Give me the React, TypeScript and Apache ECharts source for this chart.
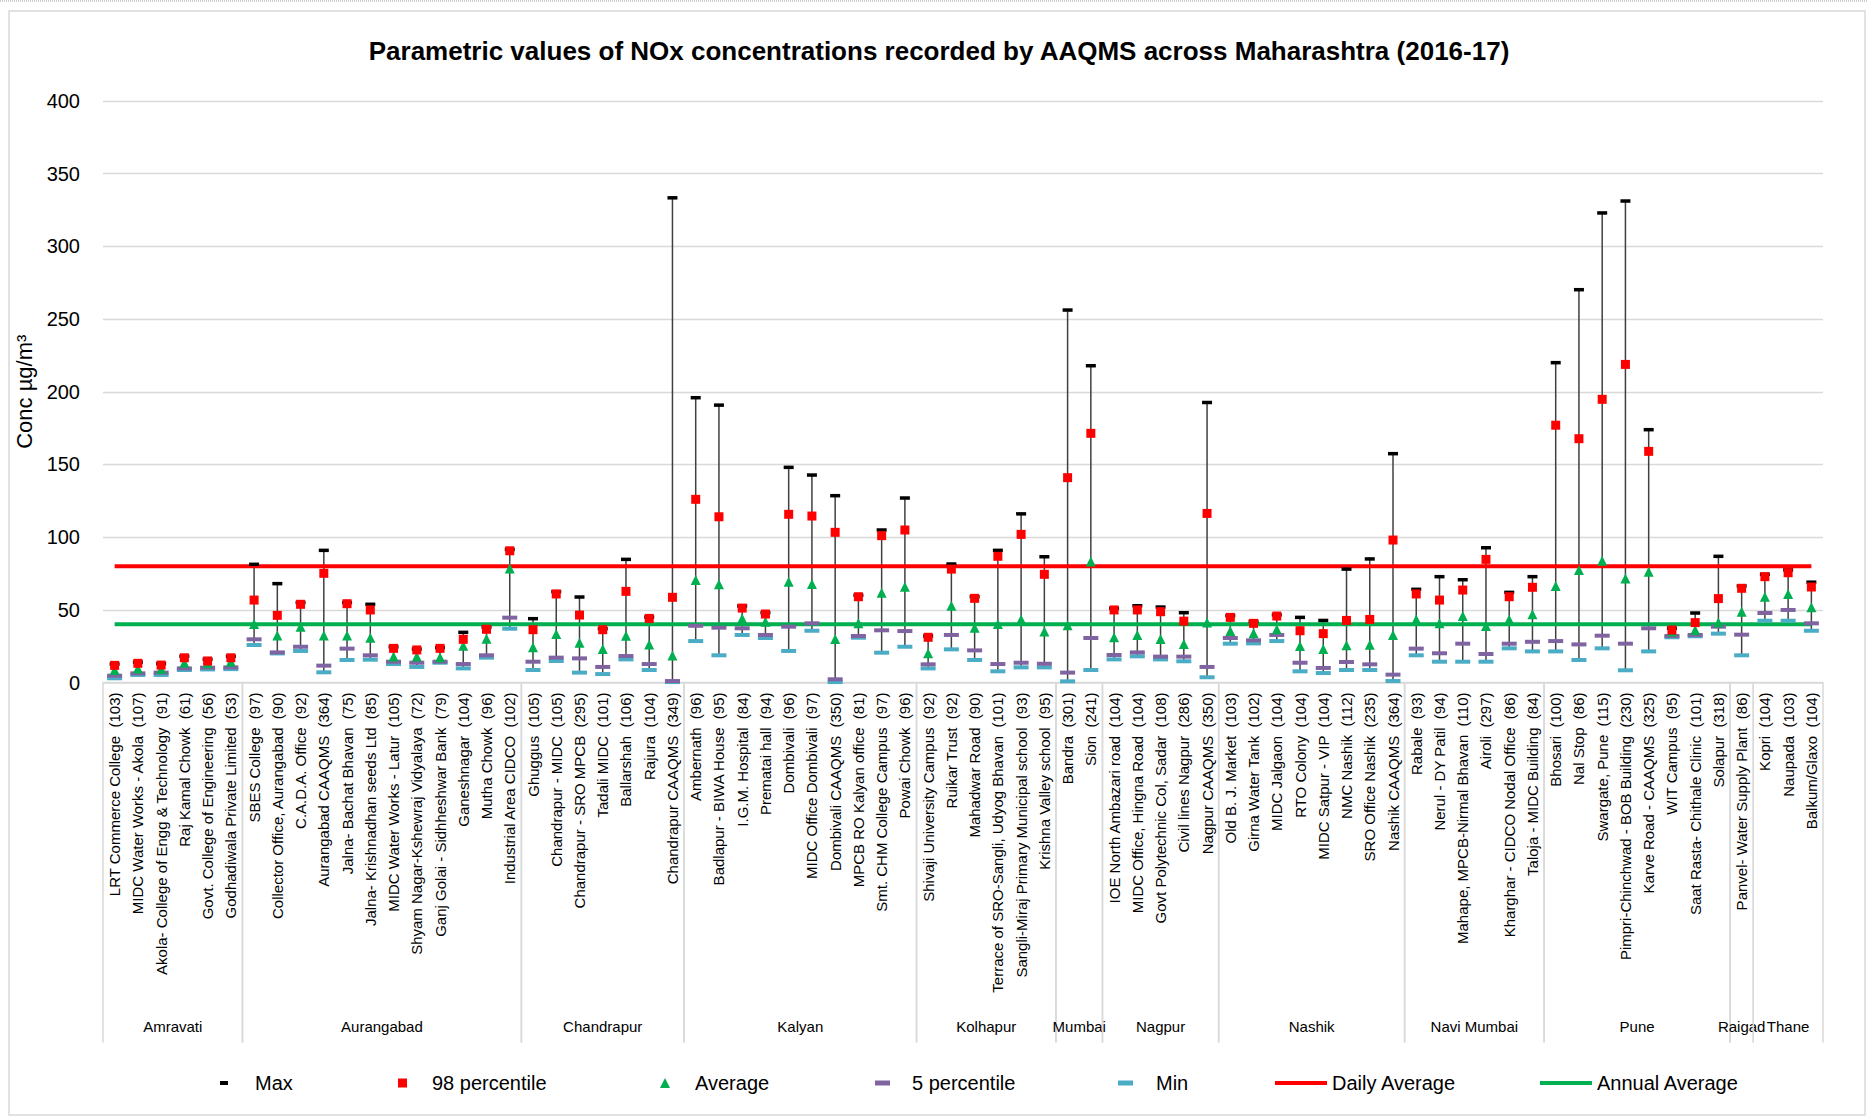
import React, { useEffect, useRef } from 'react';
import * as echarts from 'echarts';

const stations = [
  'LRT Commerce College', 'MIDC Water Works - Akola', 'Akola- College of Engg & Technology', 'Raj Kamal Chowk', 'Govt. College of Engineering', 'Godhadiwala Private Limited',
  'SBES College', 'Collector Office, Aurangabad', 'C.A.D.A. Office', 'Aurangabad CAAQMS', 'Jalna- Bachat Bhavan', 'Jalna- Krishnadhan seeds Ltd', 'MIDC Water Works - Latur', 'Shyam Nagar-Kshewraj Vidyalaya', 'Ganj Golai - Sidhheshwar Bank', 'Ganeshnagar', 'Mutha Chowk', 'Industrial Area CIDCO',
  'Ghuggus', 'Chandrapur - MIDC', 'Chandrapur - SRO MPCB', 'Tadali MIDC', 'Ballarshah', 'Rajura', 'Chandrapur CAAQMS',
  'Ambernath', 'Badlapur - BIWA House', 'I.G.M. Hospital', 'Prematai hall', 'Dombivali', 'MIDC Office Dombivali', 'Dombivali CAAQMS', 'MPCB RO Kalyan office', 'Smt. CHM College Campus', 'Powai Chowk',
  'Shivaji University Campus', 'Ruikar Trust', 'Mahadwar Road', 'Terrace of SRO-Sangli, Udyog Bhavan', 'Sangli-Miraj Primary Municipal school', 'Krishna Valley school',
  'Bandra', 'Sion',
  'IOE North Ambazari road', 'MIDC Office, Hingna Road', 'Govt Polytechnic Col, Sadar', 'Civil lines Nagpur', 'Nagpur CAAQMS',
  'Old B. J. Market', 'Girna Water Tank', 'MIDC Jalgaon', 'RTO Colony', 'MIDC Satpur - VIP', 'NMC Nashik', 'SRO Office Nashik', 'Nashik CAAQMS',
  'Rabale', 'Nerul - DY Patil', 'Mahape, MPCB-Nirmal Bhavan', 'Airoli', 'Kharghar - CIDCO Nodal Office', 'Taloja - MIDC Building',
  'Bhosari', 'Nal Stop', 'Swargate, Pune', 'Pimpri-Chinchwad - BOB Building', 'Karve Road - CAAQMS', 'WIT Campus', 'Saat Rasta- Chithale Clinic', 'Solapur',
  'Panvel- Water Supply Plant',
  'Kopri', 'Naupada', 'Balkum/Glaxo',
];

const obsCounts = [
  103, 107, 91, 61, 56, 53,
  97, 90, 92, 364, 75, 85, 105, 72, 79, 104, 96, 102,
  105, 105, 295, 101, 106, 104, 349,
  96, 95, 84, 94, 96, 97, 350, 81, 97, 96,
  92, 92, 90, 101, 93, 95,
  301, 241,
  104, 104, 108, 286, 350,
  103, 102, 104, 104, 104, 112, 235, 364,
  93, 94, 110, 297, 86, 84,
  100, 86, 115, 230, 325, 95, 101, 318,
  86,
  104, 103, 104,
];

const maxVals = [
  12.7, 14, 13, 18, 16, 18,
  81.3, 68, 55, 90.9, 55, 53.8, 24.5, 23, 24, 34.5, 38, 91.5,
  43.9, 62.5, 58.8, 37, 84.7, 45, 333.4,
  195.9, 190.8, 52.6, 48, 148, 142.7, 128.5, 60, 104.9, 126.9,
  32, 81.5, 59, 90.9, 116, 86.5,
  256.2, 217.9,
  51, 52.8, 51.9, 48, 192.6,
  46, 42, 46.5, 44.8, 42.7, 78, 85, 157.4,
  64.1, 72.8, 70.7, 92.7, 62, 72.8,
  220, 270.2, 323, 331.2, 173.9, 37.3, 47.8, 86.8,
  66.4,
  74.4, 77.4, 69,
];

const p98Vals = [
  11.8, 13.2, 12, 17, 14.8, 17,
  56.7, 46.2, 53.8, 75.1, 54.2, 49.9, 23.5, 22.4, 23.5, 29.7, 36.6, 90.6,
  36.3, 60.9, 46.4, 36.3, 62.7, 44.1, 58.6,
  126, 114, 51.2, 47.1, 115.7, 114.5, 103.3, 59, 101, 104.9,
  31.1, 78, 57.9, 86.8, 101.9, 74.4,
  140.9, 171.4,
  49.9, 49.9, 48.7, 42.2, 116.3,
  44.8, 40.7, 45.7, 35.6, 33.6, 42.7, 43.4, 98,
  60.9, 56.7, 63.6, 84.7, 59, 65.5,
  177, 167.7, 194.8, 218.8, 159, 36.1, 41.2, 57.7,
  64.8,
  72.8, 75.5, 65.7,
];

const avgVals = [
  8.6, 9.7, 9.3, 13.6, 13.2, 14.3,
  40.2, 32.4, 38.4, 32.4, 32.4, 30.8, 17.8, 17.8, 17.3, 25.3, 30.1, 78.5,
  24.2, 33.4, 27.4, 23, 32.2, 26.2, 18.5,
  70.5, 67.5, 44.1, 41.8, 69.3, 67.7, 29.9, 40.7, 61.8, 65.9,
  20.1, 52.8, 37.7, 40.2, 43.4, 35,
  39.3, 83.3,
  31.1, 32.7, 29.9, 26.5, 41.2,
  35.4, 33.8, 36.6, 25.1, 23, 25.6, 26, 32.7,
  43.4, 40.7, 45.7, 38.9, 43.4, 46.9,
  66.3, 77.4, 83.8, 71.6, 76.2, 35, 36.1, 41.2,
  48.7,
  59, 60.9, 51.7,
];

const p5Vals = [
  4.7, 6.3, 6.8, 9.7, 10.2, 10.4,
  29.7, 20.7, 24.6, 11.6, 23.3, 18.7, 14.3, 13.6, 14.3, 12.7, 18.7, 44.6,
  14.3, 17.1, 16.6, 10.7, 18.2, 12.7, 1,
  39, 37.7, 37.3, 32.7, 38.4, 40.7, 2.2, 32, 35.9, 35.4,
  12.5, 32.7, 22.1, 12.7, 13.6, 12.9,
  6.8, 30.6,
  18.9, 20.7, 17.8, 17.8, 10.7,
  30.6, 29, 32.7, 13.6, 10, 14.1, 12.5, 5.4,
  23.3, 20.1, 26.7, 19.6, 26.7, 28,
  28.5, 26.2, 32.2, 26.7, 37.3, 32, 32.7, 38.4,
  32.9,
  47.8, 49.9, 40.7,
];

const minVals = [
  2.9, 5.2, 5.2, 8.6, 9, 9.2,
  25.8, 20, 21.7, 7, 15.5, 15.7, 12.7, 10.7, 13.6, 9.7, 17.1, 37,
  8.6, 14.8, 6.8, 5.8, 15.9, 8.6, 0.3,
  28.5, 18.7, 32.7, 30.6, 21.7, 35.6, 0.3, 30.8, 20.5, 24.6,
  9.7, 22.8, 15.5, 7.7, 10.4, 10.4,
  0.8, 8.6,
  15.9, 18, 15.9, 14.6, 3.6,
  26.7, 26.9, 28.5, 7.7, 6.5, 8.6, 8.6, 1,
  18.7, 14.3, 14.3, 14.3, 23.5, 21.4,
  21.4, 15.5, 23.5, 8.4, 21.4, 31.1, 31.8, 33.6,
  18.7,
  42.5, 42.5, 35.6,
];

const regions = ['Amravati', 'Aurangabad', 'Chandrapur', 'Kalyan', 'Kolhapur', 'Mumbai', 'Nagpur', 'Nashik', 'Navi Mumbai', 'Pune', 'Raigad', 'Thane'];
const regionSizes = [6, 12, 7, 10, 6, 2, 5, 8, 6, 8, 1, 3];

const DAILY_LIMIT = 80;
const ANNUAL_LIMIT = 40;
const Y_MIN = 0;
const Y_MAX = 400;
const Y_STEP = 50;

const FONT = "'Liberation Sans', Arial, sans-serif";

const COLORS = {
  max: '#000000',
  p98: '#FF0000',
  avg: '#00B050',
  p5: '#8064A2',
  min: '#4BACC6',
  daily: '#FF0000',
  annual: '#00B050',
  whisker: '#404040',
  grid: '#D9D9D9',
};

export default function App() {
  const ref = useRef<HTMLDivElement>(null);

  useEffect(() => {
    document.body.style.margin = '0';
    if (!ref.current) return;
    const chart = echarts.init(ref.current, undefined, { renderer: 'svg' });

    const labels = stations.map((s, i) => `${s}  (${obsCounts[i]})`);
    const starts: number[] = [];
    let acc = 0;
    regionSizes.forEach((n) => { starts.push(acc); acc += n; });
    const groupData = regionSizes.map((n, k) => [starts[k], starts[k] + n - 1]);
    const first = labels[0];
    const last = labels[labels.length - 1];

    const legendItem = (name: string, left: number, icon: string, w: number, h: number, color: string, pad: number) => ({
      left,
      top: 1073,
      padding: 0,
      itemWidth: w,
      itemHeight: h,
      selectedMode: false,
      data: [{ name, icon, itemStyle: { color } }],
      textStyle: { fontFamily: FONT, fontSize: 20, color: '#000', padding: [0, 0, 0, pad] },
    });

    const option: any = {
      animation: false,
      backgroundColor: '#fff',
      title: {
        text: 'Parametric values of NOx concentrations recorded by AAQMS across Maharashtra (2016-17)',
        left: 939,
        top: 38,
        textAlign: 'center',
        padding: 0,
        textStyle: { fontFamily: FONT, fontSize: 26, fontWeight: 'bold', color: '#000' },
      },
      legend: [
        legendItem('Max', 220, 'rect', 8, 4, COLORS.max, 22),
        legendItem('98 percentile', 398, 'rect', 9, 9, COLORS.p98, 20),
        legendItem('Average', 660, 'triangle', 10, 10, COLORS.avg, 20),
        legendItem('5 percentile', 875, 'rect', 15, 5, COLORS.p5, 17),
        legendItem('Min', 1118, 'rect', 15, 5, COLORS.min, 18),
        legendItem('Daily Average', 1275, 'rect', 52, 4, COLORS.daily, 0),
        legendItem('Annual Average', 1540, 'rect', 52, 4, COLORS.annual, 0),
      ],
      graphic: [
        { type: 'rect', shape: { x: 9, y: 11, width: 1856, height: 1104 }, style: { fill: 'none', stroke: '#D9D9D9', lineWidth: 1.5 }, silent: true },
        { type: 'line', shape: { x1: 0, y1: 1, x2: 1867, y2: 1 }, style: { stroke: '#BFBFBF', lineWidth: 1.5, lineDash: [1, 1] }, silent: true },
      ],
      grid: { left: 103, right: 44, top: 101, bottom: 434.5, containLabel: false },
      xAxis: {
        type: 'category',
        data: labels,
        boundaryGap: true,
        axisLine: { show: true, lineStyle: { color: COLORS.grid, width: 1.5 } },
        axisTick: { show: false },
        axisLabel: { interval: 0, rotate: 90, margin: 10, fontFamily: FONT, fontSize: 15, color: '#000' },
        splitLine: { show: false },
      },
      yAxis: {
        type: 'value',
        min: Y_MIN,
        max: Y_MAX,
        interval: Y_STEP,
        name: 'Conc µg/m³',
        nameLocation: 'middle',
        nameGap: 47,
        nameRotate: 90,
        nameTextStyle: { fontFamily: FONT, fontSize: 22, color: '#000' },
        axisLine: { show: false },
        axisTick: { show: false },
        axisLabel: { margin: 23, fontFamily: FONT, fontSize: 20, color: '#000' },
        splitLine: { lineStyle: { color: COLORS.grid, width: 1.3 } },
      },
      series: [
        {
          name: 'range',
          type: 'custom',
          silent: true,
          data: stations.map((_, i) => [i, minVals[i], maxVals[i]]),
          renderItem: (params: any, api: any) => {
            const a = api.coord([api.value(0), api.value(1)]);
            const b = api.coord([api.value(0), api.value(2)]);
            return { type: 'line', shape: { x1: a[0], y1: a[1], x2: b[0], y2: b[1] }, style: { stroke: COLORS.whisker, lineWidth: 1.5 } };
          },
          z: 1,
        },
        {
          name: 'groups',
          type: 'custom',
          silent: true,
          clip: false,
          data: groupData,
          renderItem: (params: any, api: any) => {
            const bw = api.size([1, 0])[0];
            const l = api.coord([api.value(0), 0]);
            const r = api.coord([api.value(1), 0]);
            const x0 = l[0] - bw / 2;
            const x1 = r[0] + bw / 2;
            const y0 = l[1];
            return {
              type: 'group',
              children: [
                { type: 'line', shape: { x1: x0, y1: y0, x2: x0, y2: y0 + 360 }, style: { stroke: COLORS.grid, lineWidth: 1.5 } },
                { type: 'line', shape: { x1: x1, y1: y0, x2: x1, y2: y0 + 360 }, style: { stroke: COLORS.grid, lineWidth: 1.5 } },
                {
                  type: 'text',
                  x: (x0 + x1) / 2,
                  y: y0 + 344,
                  style: { text: regions[params.dataIndex], align: 'center', verticalAlign: 'middle', fill: '#000', fontSize: 15, fontFamily: FONT },
                },
              ],
            };
          },
          z: 1,
        },
        {
          name: 'Daily Average',
          type: 'line',
          data: [[first, DAILY_LIMIT], [last, DAILY_LIMIT]],
          showSymbol: false,
          symbol: 'none',
          lineStyle: { color: COLORS.daily, width: 4 },
          itemStyle: { color: COLORS.daily },
          z: 2,
        },
        {
          name: 'Annual Average',
          type: 'line',
          data: [[first, ANNUAL_LIMIT], [last, ANNUAL_LIMIT]],
          showSymbol: false,
          symbol: 'none',
          lineStyle: { color: COLORS.annual, width: 4 },
          itemStyle: { color: COLORS.annual },
          z: 2,
        },
        { name: 'Max', type: 'scatter', data: maxVals, symbol: 'rect', symbolSize: [10, 3.5], itemStyle: { color: COLORS.max, opacity: 1 }, z: 3 },
        { name: 'Min', type: 'scatter', data: minVals, symbol: 'rect', symbolSize: [15, 4], itemStyle: { color: COLORS.min, opacity: 1 }, z: 3 },
        { name: '5 percentile', type: 'scatter', data: p5Vals, symbol: 'rect', symbolSize: [15, 4], itemStyle: { color: COLORS.p5, opacity: 1 }, z: 3 },
        { name: 'Average', type: 'scatter', data: avgVals, symbol: 'triangle', symbolSize: [10, 10], itemStyle: { color: COLORS.avg, opacity: 1 }, z: 3 },
        { name: '98 percentile', type: 'scatter', data: p98Vals, symbol: 'rect', symbolSize: [9, 9], itemStyle: { color: COLORS.p98, opacity: 1 }, z: 3 },
      ],
    };

    chart.setOption(option);
    return () => chart.dispose();
  }, []);

  return <div ref={ref} style={{ width: 1867, height: 1117 }} />;
}
